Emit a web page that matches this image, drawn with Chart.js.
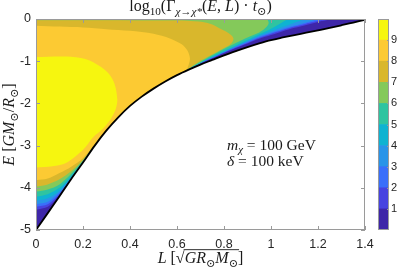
<!DOCTYPE html>
<html>
<head>
<meta charset="utf-8">
<script src="https://cdn.jsdelivr.net/npm/chart.js"></script>
<style>
  html, body { margin: 0; padding: 0; background: #fff; }
  #wrap { position: relative; width: 399px; height: 270px; }
  canvas { position: absolute; top: 0; }
  #main { left: 0; }
  #bar { left: 370px; }
</style>
</head>
<body>
<div id="wrap">
  <canvas id="main" width="399" height="270"></canvas>
  <canvas id="bar" width="29" height="270"></canvas>
</div>
<script>
// axis ticks
const xTickValues = [0, 0.2, 0.4, 0.6, 0.8, 1, 1.2, 1.4];
const xTickLabels = ['0', '0.2', '0.4', '0.6', '0.8', '1', '1.2', '1.4'];
const yTickValues = [-5, -4, -3, -2, -1, 0];
const yTickLabels = ['-5', '-4', '-3', '-2', '-1', '0'];
const cbTickValues = [1, 2, 3, 4, 5, 6, 7, 8, 9];

// contour colours, level 0-1 ... 9-10
const levelColors = ['#3e26a8', '#4743e0', '#3a6ffa', '#2994e8', '#0fb3d1',
                     '#2fc4a0', '#84c95a', '#d9b72c', '#fcca33', '#f6f60f'];

// lower edge E_min(L) (black line)
const curveL = [0, 0.05, 0.1, 0.15, 0.2, 0.25, 0.3, 0.35, 0.4, 0.45, 0.5, 0.55, 0.6, 0.65, 0.7,
                0.75, 0.8, 0.85, 0.9, 0.95, 1.0, 1.05, 1.1, 1.15, 1.2, 1.25, 1.3, 1.35, 1.4];
const curveE = [-5, -4.6, -4.2, -3.79, -3.4, -3.0, -2.64, -2.33, -2.06, -1.84, -1.65, -1.48, -1.33, -1.2, -1.08,
                -0.97, -0.86, -0.76, -0.665, -0.578, -0.5, -0.438, -0.38, -0.325, -0.268, -0.21, -0.148, -0.084, -0.02];

// region where log10 rate > level, outlines as [L, E]
const domain = [[0, 0], [1.4, 0], [1.4, -5], [0, -5]];
const above1 = [[0,0],[1.25,0],[1.2,-0.07],[1.15,-0.14],[1.1,-0.21],[1.05,-0.29],[1.0,-0.38],[0.95,-0.47],[0.9,-0.58],[0.85,-0.69],[0.8,-0.805],[0.75,-0.93],[0.7,-1.05],[0.65,-1.19],[0.6,-1.36],[0.45,-1.9],[0.3,-2.68],[0.25,-2.99],[0.2,-3.39],[0.15,-3.78],[0.1,-4.17],[0.05,-4.45],[0,-4.52]];
const above2 = [[0,0],[1.22,0],[1.15,-0.11],[1.1,-0.18],[1.05,-0.26],[1.0,-0.35],[0.95,-0.445],[0.9,-0.56],[0.85,-0.675],[0.8,-0.795],[0.75,-0.925],[0.7,-1.047],[0.65,-1.19],[0.6,-1.36],[0.45,-1.9],[0.3,-2.68],[0.25,-2.99],[0.2,-3.39],[0.15,-3.77],[0.1,-4.14],[0.05,-4.39],[0,-4.45]];
const above3 = [[0,0],[1.195,0],[1.15,-0.08],[1.1,-0.155],[1.05,-0.235],[1.0,-0.325],[0.95,-0.42],[0.9,-0.54],[0.85,-0.66],[0.8,-0.785],[0.75,-0.915],[0.7,-1.044],[0.65,-1.19],[0.6,-1.36],[0.45,-1.9],[0.3,-2.68],[0.25,-2.99],[0.2,-3.385],[0.15,-3.76],[0.1,-4.11],[0.05,-4.33],[0,-4.39]];
const above4 = [[0,0],[1.137,0],[1.1,-0.09],[1.05,-0.19],[1.0,-0.29],[0.95,-0.395],[0.9,-0.52],[0.85,-0.645],[0.8,-0.775],[0.75,-0.905],[0.7,-1.04],[0.65,-1.19],[0.6,-1.36],[0.45,-1.9],[0.3,-2.68],[0.25,-2.99],[0.2,-3.38],[0.15,-3.75],[0.1,-4.07],[0.05,-4.25],[0,-4.31]];
const above5 = [[0,0],[1.067,0],[1.05,-0.07],[1.0,-0.23],[0.95,-0.36],[0.9,-0.49],[0.85,-0.625],[0.8,-0.76],[0.75,-0.895],[0.7,-1.035],[0.65,-1.185],[0.6,-1.36],[0.45,-1.9],[0.3,-2.68],[0.25,-2.99],[0.2,-3.37],[0.15,-3.72],[0.1,-4.0],[0.05,-4.15],[0,-4.21]];
const above6 = [[0,0],[0.98,0],[0.99,-0.1],[0.975,-0.22],[0.95,-0.32],[0.9,-0.44],[0.85,-0.57],[0.8,-0.71],[0.75,-0.86],[0.7,-1.02],[0.65,-1.18],[0.6,-1.36],[0.45,-1.9],[0.3,-2.68],[0.25,-2.985],[0.2,-3.36],[0.15,-3.67],[0.1,-3.92],[0.05,-4.04],[0,-4.09]];
const above7 = [[0,-0.03],[0.57,-0.035],[0.64,-0.04],[0.71,-0.07],[0.75,-0.13],[0.78,-0.22],[0.81,-0.3],[0.83,-0.38],[0.84,-0.46],[0.835,-0.55],[0.82,-0.63],[0.8,-0.69],[0.77,-0.78],[0.73,-0.9],[0.7,-0.99],[0.68,-1.06],[0.66,-1.135],[0.6,-1.36],[0.45,-1.9],[0.3,-2.68],[0.25,-2.98],[0.2,-3.34],[0.15,-3.6],[0.1,-3.8],[0.05,-3.92],[0,-3.97]];
const above8 = [[0,-0.16],[0.1,-0.18],[0.2,-0.2],[0.3,-0.24],[0.4,-0.28],[0.5,-0.35],[0.57,-0.46],[0.62,-0.6],[0.645,-0.75],[0.655,-0.93],[0.65,-1.08],[0.64,-1.2],[0.6,-1.31],[0.55,-1.46],[0.5,-1.63],[0.45,-1.82],[0.4,-2.04],[0.35,-2.31],[0.3,-2.62],[0.25,-2.97],[0.2,-3.3],[0.15,-3.5],[0.1,-3.65],[0.05,-3.78],[0,-3.82]];
const above9 = [[0,-0.9],[0.13,-0.89],[0.21,-0.95],[0.272,-1.12],[0.31,-1.3],[0.335,-1.55],[0.346,-1.91],[0.34,-2.12],[0.32,-2.35],[0.285,-2.6],[0.243,-2.8],[0.2,-3.1],[0.132,-3.4],[0.07,-3.49],[0,-3.52]];

const SANS = '"Liberation Sans", Arial, sans-serif';
const SERIF = '"Liberation Serif", "DejaVu Serif", serif';
const TEXT = '#262626';

function segFont(st, size) {
  const s = st.includes('s') ? size * 0.7 : size;
  return (st.includes('i') ? 'italic ' : '') + s.toFixed(1) + 'px ' + SERIF;
}

// segments: [text, style]; i = italic, s = subscript, r = radical, e = end of radical bar
function drawRich(ctx, segs, x, y, size, align) {
  let total = 0;
  for (const [t, st] of segs) { ctx.font = segFont(st, size); total += ctx.measureText(t).width; }
  let cx = align === 'left' ? x : x - total / 2;
  let barStart = null;
  ctx.textAlign = 'left';
  ctx.textBaseline = 'alphabetic';
  for (const [t, st] of segs) {
    ctx.font = segFont(st, size);
    const w = ctx.measureText(t).width;
    ctx.fillText(t, cx, y + (st.includes('s') ? size * 0.22 : 0));
    cx += w;
    if (st.includes('r')) barStart = cx - 1;
    if (st.includes('e') && barStart !== null) {
      ctx.fillRect(barStart, y - size * 0.86, cx - barStart + 1, 0.9);
    }
  }
}

const titleSegs = [['log', ''], ['10', 's'], ['(Γ', ''], ['χ→χ*', 'si'], ['(', ''], ['E', 'i'], [', ', ''],
                   ['L', 'i'], [') · ', ''], ['t', 'i'], ['⊙', 's'], [')', '']];
const yTitleSegs = [['E', 'i'], [' [', ''], ['GM', 'i'], ['⊙', 's'], ['/', ''], ['R', 'i'], ['⊙', 's'], [']', '']];
const xTitleSegs = [['L', 'i'], [' [', ''], ['√', 'r'], ['GR', 'i'], ['⊙', 's'], ['M', 'i'], ['⊙', 'se'], [']', '']];
const massSegs = [['m', 'i'], ['χ', 'si'], [' = 100 GeV', '']];
const deltaSegs = [['δ', 'i'], [' = 100 keV', '']];

const framePlugin = {
  id: 'frame',
  afterDatasetsDraw(chart) {
    const { ctx, chartArea: a, scales: { x, y } } = chart;
    ctx.save();
    ctx.strokeStyle = '#9a9a9a';
    ctx.lineWidth = 1;
    ctx.beginPath();
    xTickValues.forEach(v => {
      const px = Math.round(x.getPixelForValue(v)) + 0.5;
      ctx.moveTo(px, a.bottom); ctx.lineTo(px, a.bottom - 4);
      ctx.moveTo(px, a.top); ctx.lineTo(px, a.top + 4);
    });
    yTickValues.forEach(v => {
      const py = Math.round(y.getPixelForValue(v)) + 0.5;
      ctx.moveTo(a.left, py); ctx.lineTo(a.left + 4, py);
      ctx.moveTo(a.right, py); ctx.lineTo(a.right - 4, py);
    });
    ctx.stroke();
    ctx.strokeRect(a.left + 0.5, a.top + 0.5, a.right - a.left - 1, a.bottom - a.top - 1);
    ctx.restore();
  },
  afterDraw(chart) {
    const { ctx, chartArea: a } = chart;
    ctx.save();
    ctx.fillStyle = '#1a1a1a';
    drawRich(ctx, titleSegs, (a.left + a.right) / 2, 11, 16);
    drawRich(ctx, xTitleSegs, (a.left + a.right) / 2, 263, 16);
    drawRich(ctx, massSegs, 227, 150, 15.5, 'left');
    drawRich(ctx, deltaSegs, 227, 166, 15.5, 'left');
    ctx.translate(14, (a.top + a.bottom) / 2);
    ctx.rotate(-Math.PI / 2);
    drawRich(ctx, yTitleSegs, 0, 0, 16);
    ctx.restore();
  }
};

const regions = [domain, above1, above2, above3, above4, above5, above6, above7, above8, above9];
const datasets = regions.map((pts, i) => ({
  data: pts.map(([L, E]) => ({ x: L, y: E })),
  fill: 'shape',
  backgroundColor: levelColors[i],
  borderColor: 'rgba(0,0,0,0)',
  borderWidth: 0,
  pointRadius: 0,
  tension: i === 0 ? 0 : 0.3,
  order: 20 - i
}));
datasets.push({
  data: curveL.map((L, i) => ({ x: L, y: curveE[i] })),
  fill: 'start',
  backgroundColor: '#ffffff',
  borderColor: '#000000',
  borderWidth: 1.8,
  pointRadius: 0,
  cubicInterpolationMode: 'monotone',
  order: 0
});

new Chart(document.getElementById('main'), {
  type: 'line',
  data: { datasets },
  options: {
    responsive: false,
    animation: false,
    events: [],
    layout: { padding: { left: 0, right: 34, top: 19, bottom: 0 } },
    plugins: { legend: { display: false }, tooltip: { enabled: false } },
    scales: {
      x: {
        type: 'linear', min: 0, max: 1.4,
        afterBuildTicks: s => { s.ticks = xTickValues.map(v => ({ value: v })); },
        afterFit: s => { s.height = 40; },
        ticks: { callback: (v, i) => xTickLabels[i], font: { family: SANS, size: 12.5 }, color: TEXT, padding: 7, maxRotation: 0 },
        grid: { display: false, drawTicks: false },
        border: { display: false }
      },
      y: {
        type: 'linear', min: -5, max: 0,
        afterBuildTicks: s => { s.ticks = yTickValues.map(v => ({ value: v })); },
        afterFit: s => { s.width = 36; },
        ticks: { callback: (v, i) => yTickLabels[i], font: { family: SANS, size: 12.5 }, color: TEXT, padding: 5 },
        grid: { display: false, drawTicks: false },
        border: { display: false }
      }
    }
  },
  plugins: [framePlugin]
});

const cbFrame = {
  id: 'cbFrame',
  afterDatasetsDraw(chart) {
    const { ctx, chartArea: a, scales: { y } } = chart;
    ctx.save();
    ctx.strokeStyle = '#9a9a9a';
    ctx.lineWidth = 1;
    ctx.beginPath();
    cbTickValues.forEach(v => {
      const py = Math.round(y.getPixelForValue(v)) + 0.5;
      ctx.moveTo(a.right, py); ctx.lineTo(a.right - 2, py);
    });
    ctx.stroke();
    ctx.strokeRect(a.left + 0.5, a.top + 0.5, a.right - a.left - 1, a.bottom - a.top - 1);
    ctx.restore();
  }
};

new Chart(document.getElementById('bar'), {
  type: 'bar',
  data: {
    labels: [''],
    datasets: levelColors.map(c => ({
      data: [1], backgroundColor: c, borderWidth: 0, barPercentage: 1, categoryPercentage: 1
    }))
  },
  options: {
    responsive: false,
    animation: false,
    events: [],
    layout: { padding: { left: 8, right: 0, top: 19, bottom: 40 } },
    plugins: { legend: { display: false }, tooltip: { enabled: false } },
    scales: {
      x: { display: false, stacked: true },
      y: {
        stacked: true, position: 'right', min: 0, max: 10,
        afterBuildTicks: s => { s.ticks = cbTickValues.map(v => ({ value: v })); },
        afterFit: s => { s.width = 10; },
        ticks: { font: { family: SANS, size: 11 }, color: TEXT, padding: 2 },
        grid: { display: false, drawTicks: false },
        border: { display: false }
      }
    }
  },
  plugins: [cbFrame]
});
</script>
</body>
</html>
